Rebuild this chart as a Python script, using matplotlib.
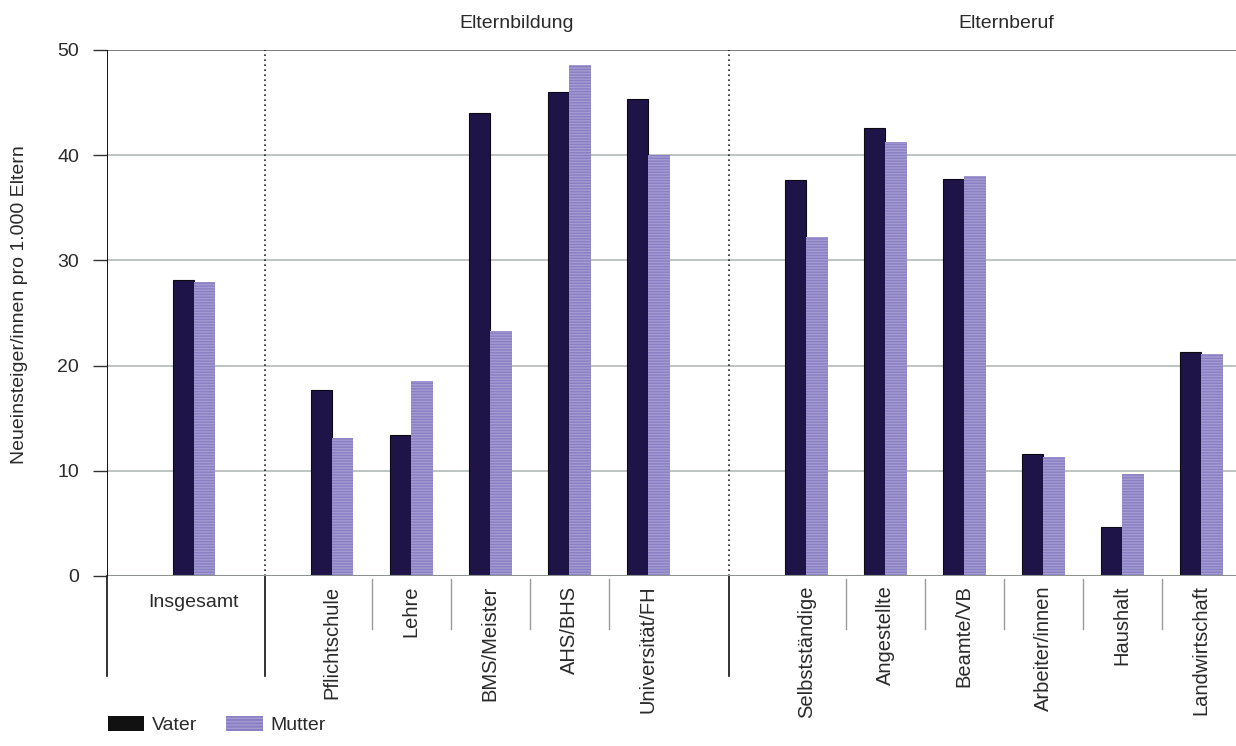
import matplotlib
matplotlib.use("Agg")
import matplotlib.pyplot as plt
import matplotlib.transforms as mtransforms
from matplotlib.patches import Patch

plt.rcParams['font.family'] = ['Liberation Sans', 'DejaVu Sans']

# Data: new entrants per 1,000 parents
total_label = ["Insgesamt"]
total_vater = [28.1]
total_mutter = [27.9]

bildung_labels = ["Pflichtschule", "Lehre", "BMS/Meister", "AHS/BHS", "Universität/FH"]
bildung_vater = [17.7, 13.4, 44.0, 46.0, 45.3]
bildung_mutter = [13.1, 18.5, 23.3, 48.6, 40.0]

beruf_labels = ["Selbstständige", "Angestellte", "Beamte/VB", "Arbeiter/innen", "Haushalt", "Landwirtschaft"]
beruf_vater = [37.6, 42.6, 37.7, 11.6, 4.7, 21.3]
beruf_mutter = [32.2, 41.3, 38.0, 11.3, 9.7, 21.1]

group_titles = ["Elternbildung", "Elternberuf"]
series_names = ["Vater", "Mutter"]
y_ticks = [0, 10, 20, 30, 40, 50]
y_label = "Neueinsteiger/innen pro 1.000 Eltern"

# Layout of category slots along x
pos_total = [1.10]
pos_bildung = [2.85 + i for i in range(len(bildung_labels))]
pos_beruf = [8.85 + i for i in range(len(beruf_labels))]
sep_main = [0.0, 2.0, 7.87]
bar_w = 0.27

VATER = "#1e1447"
MUTTER = "#8a7fc3"
TXT = "#2a2a2a"

fig = plt.figure(figsize=(12.36, 7.46), dpi=100)
ax = fig.add_axes([107 / 1236, 1 - 576 / 746, 1 - 107 / 1236, (576 - 50) / 746])
ax.set_xlim(0, 14.29)
ax.set_ylim(0, 50)

positions = pos_total + pos_bildung + pos_beruf
vater = total_vater + bildung_vater + beruf_vater
mutter = total_mutter + bildung_mutter + beruf_mutter

# grid
for t in y_ticks[1:-1]:
    ax.axhline(t, color="#b9bfbd", lw=1.3, zorder=0)
ax.axhline(50, color="#6d7270", lw=1.3, zorder=0)
ax.axhline(0, color="#8e9391", lw=1.5, zorder=3)

ax.bar([p - bar_w / 2 for p in positions], vater, width=bar_w,
       color=VATER, edgecolor="#0c0a14", lw=0.8, zorder=2)
ax.bar([p + bar_w / 2 for p in positions], mutter, width=bar_w,
       color=MUTTER, edgecolor="#a39bd2", lw=0, hatch="------", zorder=2)

# spines and ticks
for s in ax.spines.values():
    s.set_visible(False)
ax.axvline(0, color="#111111", lw=1.4, zorder=3)
ax.set_yticks(y_ticks)
ax.set_yticklabels([str(t) for t in y_ticks], fontsize=14, color=TXT)
ax.tick_params(axis="y", length=10, width=1.0, color="#333333", pad=10)
ax.set_xticks([])

fig.text(20 / 1236, 1 - 305 / 746, y_label, rotation=90, ha="center",
         va="center", fontsize=14, color=TXT)

# dotted group separators inside the plot
for x in sep_main[1:]:
    ax.axvline(x, color="#222222", lw=1.2, ls=(0, (1, 2)), zorder=1)

trans = mtransforms.blended_transform_factory(ax.transData, ax.transAxes)

# separators below the axis
for x in sep_main:
    ax.plot([x, x], [0, -0.19], transform=trans, color="#111111", lw=1.2,
            clip_on=False)
inner = []
for grp in (pos_bildung, pos_beruf):
    inner += [(a + b) / 2 for a, b in zip(grp[:-1], grp[1:])]
for x in inner:
    ax.plot([x, x], [-0.005, -0.10], transform=trans, color="#9a9a9a", lw=1.0,
            clip_on=False)

# category labels
ax.text(pos_total[0], -0.035, total_label[0], transform=trans, ha="center",
        va="top", fontsize=14, color=TXT)
for p, lab in zip(pos_bildung + pos_beruf, bildung_labels + beruf_labels):
    ax.text(p, -0.018, lab, transform=trans, ha="center", va="top",
            rotation=90, fontsize=14.5, color=TXT)

# group headers
ax.text(5.19, 1.035, group_titles[0], transform=trans, ha="center", va="bottom",
        fontsize=14, color=TXT)
ax.text(11.38, 1.035, group_titles[1], transform=trans, ha="center", va="bottom",
        fontsize=14, color=TXT)

# legend
handles = [Patch(facecolor="#111111", edgecolor="none"),
           Patch(facecolor=MUTTER, edgecolor="#a39bd2", lw=0, hatch="-----")]
fig.legend(handles, series_names, loc="lower left",
           bbox_to_anchor=(90 / 1236, -0.008), ncol=2, frameon=False,
           fontsize=14, handlelength=1.9, handleheight=0.8, handletextpad=0.4,
           columnspacing=1.45, labelcolor=TXT)

fig.savefig("out.png", dpi=100)
